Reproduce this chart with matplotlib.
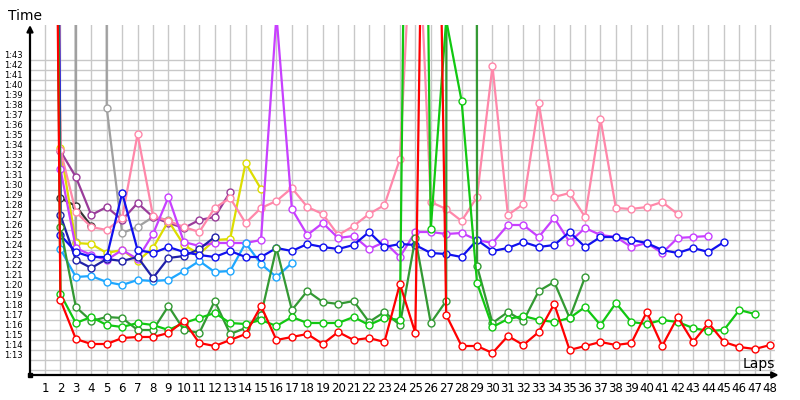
import numpy as np
import matplotlib.pyplot as plt

# lap times in seconds (1:23.4 -> 83.4); very large values = laps far above the chart
laps = np.arange(1, 49)
nan = np.nan

red = [240, 79.0, 75.1, 74.6, 74.6, 75.2, 75.3, 75.3, 75.7, 76.9,
       74.7, 74.4, 75.0, 75.6, 78.4, 75.0, 75.3, 75.6, 74.6, 75.8,
       75.0, 75.2, 74.8, 80.6, 75.7, 177, 77.5, 74.4, 74.4, 73.7,
       75.4, 74.5, 75.8, 78.6, 74.0, 74.4, 74.8, 74.5, 74.7, 77.8,
       74.4, 77.3, 74.8, 76.7, 74.8, 74.3, 74.1, 74.5]
green = [260, 79.6, 76.7, 77.3, 76.5, 76.3, 76.7, 76.5, 76.0, 76.7,
         77.2, 77.7, 76.7, 76.6, 77.0, 76.4, 77.3, 76.7, 76.7, 76.7,
         77.3, 76.5, 77.2, 77.0, 216, 86.1, 107, 98.9, 80.7, 76.3,
         77.1, 77.4, 77.0, 76.8, 77.2, 78.3, 76.5, 78.7, 76.8, 76.6,
         77.0, 76.8, 76.2, 75.9, 76.0, 78.0, 77.6]
dkgreen = [230, 86.3, 78.3, 76.9, 77.3, 77.2, 76.0, 76.0, 78.4, 76.0,
           75.7, 78.9, 75.6, 76.2, 77.5, 84.2, 78.0, 79.9, 78.8, 78.6,
           78.9, 76.8, 77.8, 76.5, 85.2, 76.7, 78.9, 2000, 82.4, 76.7,
           77.8, 76.9, 79.9, 80.8, 77.2, 81.3]
blue = [280, 85.5, 83.8, 83.3, 83.3, 89.7, 84.0, 83.7, 84.3, 83.8,
        83.5, 83.3, 83.9, 83.3, 83.3, 84.2, 83.9, 84.6, 84.3, 84.1,
        84.5, 85.8, 84.3, 84.6, 84.5, 83.7, 83.6, 83.3, 85.0, 83.9,
        84.2, 84.8, 84.3, 84.5, 85.8, 84.3, 85.3, 85.3, 85.0, 84.7,
        84.0, 83.7, 84.2, 83.8, 84.8]
dkblue = [300, 87.5, 83.0, 82.2, 83.1, 82.9, 83.3, 81.2, 83.2, 83.4,
          84.1, 85.3]
ltblue = [320, 84.1, 81.3, 81.4, 80.8, 80.5, 81.0, 80.9, 81.0, 81.9,
          82.9, 81.8, 81.9, 84.7, 82.6, 81.3, 82.7]
violet = [260, 92.1, 84.2, 83.5, 83.0, 84.0, 83.1, 85.6, 89.3, 84.8,
          84.4, 84.7, 84.7, 84.7, 85.0, 107.5, 88.1, 85.5, 86.7, 85.2,
          85.4, 84.1, 84.8, 83.3, 85.8, 85.8, 85.6, 85.7, 85.0, 84.7,
          86.5, 86.5, 85.3, 87.2, 84.8, 86.2, 85.5, 85.3, 84.3, 84.7,
          83.7, 85.2, 85.3, 85.4]
pink = [250, 94.0, 87.8, 86.3, 86.0, 87.2, 95.6, 87.4, 86.9, 86.3,
        85.8, 88.2, 89.2, 86.7, 88.2, 88.9, 90.2, 88.3, 87.6, 85.5,
        86.4, 87.6, 88.5, 93.1, 124, 88.8, 88.1, 86.9, 89.3, 102.4,
        87.5, 88.6, 98.7, 89.3, 89.7, 87.3, 97.1, 88.2, 88.1, 88.3,
        88.8, 87.6]
yellow = [220, 94.2, 84.7, 84.6, 83.7, 84.0, 82.9, 84.2, 86.9, 84.5,
          83.6, 85.0, 85.1, 92.7, 90.1]
dkpurple = [240, 93.9, 91.3, 87.5, 88.3, 87.0, 88.7, 87.3, 86.7, 86.2,
            87.0, 87.3, 89.8]
black = [300, 89.2, 88.4, 86.4]
grey = [nan, 3000, 84.8, 3000, 98.2, 85.7, 86.3, 87.3, 87.0]

series = [
    (grey, "#a0a0a0"),
    (black, "#333333"),
    (dkpurple, "#9a3c9a"),
    (yellow, "#dddd00"),
    (pink, "#ff88aa"),
    (violet, "#c840ff"),
    (ltblue, "#1ea7ff"),
    (dkblue, "#2020a8"),
    (blue, "#1010ee"),
    (dkgreen, "#339933"),
    (green, "#11c811"),
    (red, "#ff0000"),
]

fig = plt.figure(figsize=(8, 4), dpi=100)
ax = fig.add_axes([30 / 800, 25 / 400, 745 / 800, 350 / 400])

for vals, col in series:
    ax.plot(laps[:len(vals)], vals, color=col, lw=1.6, marker="o", ms=5,
            mfc="white", mec=col, mew=1, zorder=3)

ax.set_xlim(0.028, 48.31)
ax.set_ylim(71.5, 106.5)

ax.set_xticks(laps)
ax.set_xticklabels([str(l) for l in laps])
yt = list(range(72, 104))
ax.set_yticks(yt)
ax.set_yticklabels(["" if s == 72 else "1:%02d" % (s - 60) for s in yt])
plt.setp(ax.get_yticklabels(), va="bottom")
ax.tick_params(axis="x", length=0, labelsize=8.5, pad=5)
ax.tick_params(axis="y", length=0, labelsize=6, pad=5)
ax.grid(True, color="#c8c8c8", lw=1, zorder=0)

for s in ["top", "right", "left", "bottom"]:
    ax.spines[s].set_visible(False)

arrow = dict(arrowstyle="-|>", lw=1.6, color="black", mutation_scale=9,
             shrinkA=0, shrinkB=0)
ax.annotate("", xy=(0, 1.0), xytext=(0, 0), xycoords="axes fraction",
            arrowprops=arrow, annotation_clip=False)
ax.annotate("", xy=(1.005, 0), xytext=(0, 0), xycoords="axes fraction",
            arrowprops=arrow, annotation_clip=False)
ax.plot([0], [0], "s", color="black", ms=3, transform=ax.transAxes,
        clip_on=False)

fig.text(8 / 800, 1 - 16 / 400, "Time", fontsize=10, va="center")
fig.text(743 / 800, 1 - 364 / 400, "Laps", fontsize=10, va="center")

fig.savefig("out.png", dpi=100)
